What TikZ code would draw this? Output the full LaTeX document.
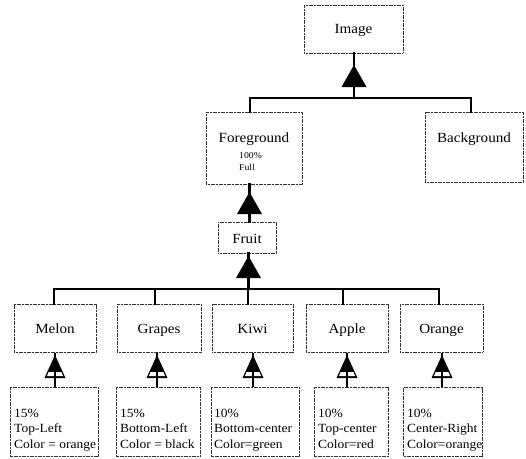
\documentclass[tikz,border=0pt]{standalone}
\usepackage{fontspec}
\setmainfont{Liberation Serif}[FakeStretch=1.08]
\begin{document}
\begin{tikzpicture}[x=1pt,y=-1pt,
  box/.style={draw=black!80, line width=1pt, dash pattern=on 1.2pt off 0.4pt, inner sep=0pt},
  lbl/.style={font=\fontsize{14}{16}\selectfont},
  attr/.style={inner sep=0pt, align=left, font=\fontsize{12.5}{15.5}\selectfont},
  note/.style={inner sep=0pt, font=\fontsize{9}{11}\selectfont},
  conn/.style={line width=2.2pt, line cap=rect, line join=miter},
  stem/.style={line width=1.6pt},
  bigtri/.pic={\fill (0,0) -- (12.5,22) -- (-12.5,22) -- cycle;},
  flagtri/.pic={\fill (0,0) -- (10.5,23) -- (-10.5,23) -- cycle;
    \fill[white] (-6.4,17) -- (6.4,17) -- (8.0,21) -- (-8.0,21) -- cycle;}
]
\useasboundingbox (0,0) rectangle (526,458);

% --- top level ---
\node[box,lbl,minimum width=99pt,text height=28pt,text depth=20pt,anchor=base] (image) at (353.5,33) {Image};
\node[box,lbl,minimum width=96pt,text height=30pt,text depth=42pt,anchor=base] (fg) at (254,142) {Foreground};
\node[note,anchor=base west] (fgpct) at (239,158) {100\%};
\node[note,anchor=base west] (fgfull) at (239,170) {Full};
\node[box,lbl,minimum width=98pt,text height=30pt,text depth=40pt,anchor=base] (bg) at (474,142) {Background};

% --- fruit level ---
\node[box,lbl,minimum width=58pt,text height=21pt,text depth=10pt,anchor=base] (fruit) at (247,243) {Fruit};

\foreach \nm/\cx/\w/\txt in {melon/55/82/Melon, grapes/159/84/Grapes, kiwi/252.5/81/Kiwi, apple/347/82/Apple, orange/441.5/83/Orange}
  \node[box,lbl,minimum width=\w pt,text height=29pt,text depth=19pt,anchor=base] (\nm) at (\cx,333) {\txt};

% --- attribute boxes ---
\foreach \nm/\lx/\w in {melon/10/88, grapes/116/84, kiwi/211/88, apple/314/74, orange/403/79}
  \node[box,minimum width=\w pt,minimum height=69pt,anchor=north west] (\nm A) at (\lx,387) {};

\node[attr,anchor=north west] (melonT)  at (14,408.5)  {15\%\\Top-Left\\Color = orange};
\node[attr,anchor=north west] (grapesT) at (120,408.5) {15\%\\Bottom-Left\\Color = black};
\node[attr,anchor=north west] (kiwiT)   at (214,408.5) {10\%\\Bottom-center\\Color=green};
\node[attr,anchor=north west] (appleT)  at (318,408.5) {10\%\\Top-center\\Color=red};
\node[attr,anchor=north west] (orangeT) at (407,408.5) {10\%\\Center-Right\\Color=orange};

% --- junction points ---
\coordinate (t1) at (354,65);
\coordinate (j1) at (354,98);
\coordinate (jf) at (250,98);
\coordinate (jb) at (471,98);
\coordinate (t2) at (249.5,192);
\coordinate (t3) at (248.5,256);
\coordinate (jm) at (54,289);
\coordinate (jg) at (155,289);
\coordinate (jk) at (248,289);
\coordinate (ja) at (343,289);
\coordinate (jo) at (439,289);

% --- connectors ---
\draw[conn] (t1 |- image.south) -- (j1);
\draw[conn] (jf |- fg.north) -- (jf) -- (jb) -- (jb |- bg.north);
\draw[conn] (t2 |- fg.south) -- (t2 |- fruit.north);
\draw[conn] (t3 |- fruit.south) -- (t3 |- jk);
\draw[conn] (jm |- melon.north) -- (jm) -- (jo) -- (jo |- orange.north);
\draw[conn] (jg) -- (jg |- grapes.north);
\draw[conn] (jk) -- (jk |- kiwi.north);
\draw[conn] (ja) -- (ja |- apple.north);

\pic at (t1) {bigtri};
\pic at (t2) {bigtri};
\pic at (t3) {bigtri};

% --- attribute links ---
\foreach \nm/\sx in {melon/55, grapes/157, kiwi/253, apple/347, orange/442} {
  \coordinate (s\nm) at (\sx,355);
  \pic at (s\nm) {flagtri};
  \draw[stem] (s\nm |- \nm.south) -- (s\nm |- \nm A.north);
}
\end{tikzpicture}
\end{document}
